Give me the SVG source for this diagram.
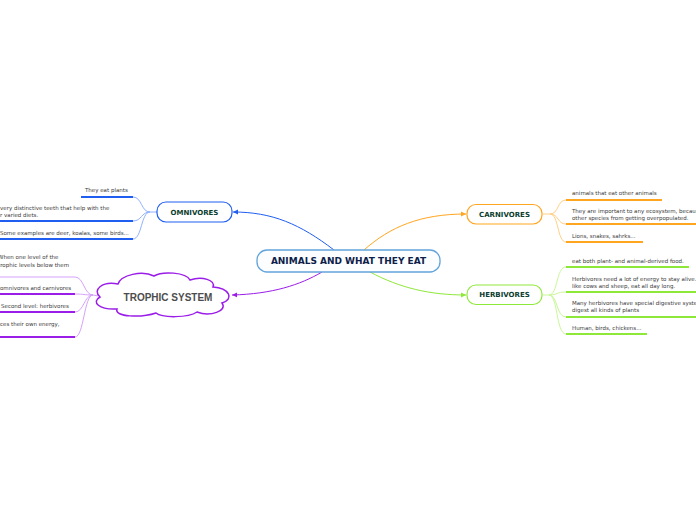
<svg xmlns="http://www.w3.org/2000/svg" width="696" height="520" viewBox="0 0 696 520">
<style>
.t{font-family:"DejaVu Sans",Verdana,sans-serif;font-size:5.5px;fill:#3a3a3a}
.nt{font-family:"DejaVu Sans",Verdana,sans-serif;font-size:7px;font-weight:bold;fill:#0b3d2e;text-anchor:middle}
.main{font-family:"DejaVu Sans",Verdana,sans-serif;font-size:9px;font-weight:bold;fill:#0e1e4a;text-anchor:middle}
.cloudt{font-family:"Liberation Sans",Arial,sans-serif;font-size:10px;font-weight:bold;fill:#4d4d4d;text-anchor:middle}
.c{fill:none;stroke-width:1}
.u{fill:none;stroke-width:2}
.b{stroke:#1f5ef0}.bl{stroke:#8fb0ff}
.o{stroke:#ffa51f}.ol{stroke:#ffcf85}
.g{stroke:#8ee83a}.gl{stroke:#c9f79a}
.p{stroke:#9b1de8}.pl{stroke:#d6a2fb}
</style>
<defs>
<marker id="ab" markerWidth="6" markerHeight="6" refX="5" refY="3" orient="auto" markerUnits="userSpaceOnUse"><path d="M0,0.5 L5,3 L0,5.5 Z" fill="#1f5ef0"/></marker>
<marker id="ao" markerWidth="6" markerHeight="6" refX="5" refY="3" orient="auto" markerUnits="userSpaceOnUse"><path d="M0,0.5 L5,3 L0,5.5 Z" fill="#ffa51f"/></marker>
<marker id="ag" markerWidth="6" markerHeight="6" refX="5" refY="3" orient="auto" markerUnits="userSpaceOnUse"><path d="M0,0.5 L5,3 L0,5.5 Z" fill="#8ee83a"/></marker>
<marker id="ap" markerWidth="6" markerHeight="6" refX="5" refY="3" orient="auto" markerUnits="userSpaceOnUse"><path d="M0,0.5 L5,3 L0,5.5 Z" fill="#9b1de8"/></marker>
</defs>
<g id="connectors">
<path class="c b" d="M334,250 C300,224 272,212 233,212" marker-end="url(#ab)"/>
<path class="c p" d="M322,272 C300,285 272,294 232,295" marker-end="url(#ap)"/>
<path class="c o" d="M364,250 C390,227 420,214 466,214" marker-end="url(#ao)"/>
<path class="c g" d="M370,272 C400,288 430,295 466,295" marker-end="url(#ag)"/>
<path class="c bl" d="M157,212 L150,212 C141,212 142,197 133,197 M150,212 C141,212 142,221 133,221 M150,212 C141,212 142,239 133,239"/>
<path class="c ol" d="M543,214 L550,214 C559,214 557,200 566,200 M550,214 C559,214 557,224 566,224 M550,214 C559,214 557,242 566,242"/>
<path class="c gl" d="M543,295 L549,295 C558,295 556,267 566,267 M549,295 C558,295 556,292 566,292 M549,295 C558,295 556,317 566,317 M549,295 C558,295 556,334 566,334"/>
<path class="c pl" d="M98,296 L93,295 C84,295 84,277 75,277 L0,277 M93,295 C84,295 84,294 75,294 M93,295 C84,295 84,312 75,312 M93,295 C84,295 84,337 75,337"/>
</g>
<g id="central">
<rect x="257" y="250" width="183" height="22" rx="10" fill="#fbfdff" stroke="#62a4db" stroke-width="1.3"/>
<text class="main" x="348.5" y="264.3">ANIMALS AND WHAT THEY EAT</text>
</g>
<g id="omnivores">
<rect x="157" y="202" width="75" height="20" rx="9" fill="#fff" stroke="#1f5ef0" stroke-width="1.2"/>
<text class="nt" x="194.5" y="214.5">OMNIVORES</text>
</g>
<g id="carnivores">
<rect x="467" y="204.5" width="75" height="19.5" rx="9" fill="#fff" stroke="#ffa51f" stroke-width="1.2"/>
<text class="nt" x="504.5" y="216.8">CARNIVORES</text>
</g>
<g id="herbivores">
<rect x="467" y="285" width="75" height="19.5" rx="9" fill="#fff" stroke="#8ee83a" stroke-width="1.2"/>
<text class="nt" x="504.5" y="297.3">HERBIVORES</text>
</g>
<g id="trophic">
<path d="M100,297 C92,290 102,281 118,284 C121,275 142,270 154,276 C162,271 186,272 190,280 C202,276 216,280 213,287 C229,288 235,299 222,303 C228,311 210,317 197,312 C188,318 162,318 156,313 C141,318 114,317 117,309 C99,310 91,302 100,297 Z" fill="#fff" stroke="#9b1de8" stroke-width="1.5"/>
<text class="cloudt" x="168" y="300.5">TROPHIC SYSTEM</text>
</g>
<g id="omni-items">
<text class="t" x="85" y="192">They eat plants</text>
<path class="u b" d="M81,197 L133,197"/>
<text class="t" x="0" y="210">very distinctive teeth that help with the</text>
<text class="t" x="0" y="217">r varied diets.</text>
<path class="u b" d="M0,221 L133,221"/>
<text class="t" x="0" y="234.5">Some examples are deer, koalas, some birds...</text>
<path class="u b" d="M0,239 L133,239"/>
</g>
<g id="trophic-items">
<text class="t" x="-2" y="259">When one level of the</text>
<text class="t" x="-2" y="267">trophic levels below them</text>
<text class="t" x="0" y="290">omnivores and carnivores</text>
<path class="u p" d="M0,294 L75,294"/>
<text class="t" x="1" y="308">Second level: herbivores</text>
<path class="u p" d="M0,312 L75,312"/>
<text class="t" x="0" y="326">ces their own energy,</text>
<path class="u p" d="M0,337 L75,337"/>
</g>
<g id="carni-items">
<text class="t" x="572" y="195">animals that eat other animals</text>
<path class="u o" d="M566,200 L662,200"/>
<text class="t" x="572" y="213">They are important to any ecosystem, becau</text>
<text class="t" x="572" y="220">other species from getting overpopulated.</text>
<path class="u o" d="M566,224 L696,224"/>
<text class="t" x="572" y="238">Lions, snakes, sahrks...</text>
<path class="u o" d="M566,242 L643,242"/>
</g>
<g id="herbi-items">
<text class="t" x="572" y="263">eat both plant- and animal-derived food.</text>
<path class="u g" d="M566,267 L689,267"/>
<text class="t" x="572" y="281">Herbivores need a lot of energy to stay alive.</text>
<text class="t" x="572" y="288">like cows and sheep, eat all day long.</text>
<path class="u g" d="M566,292 L696,292"/>
<text class="t" x="572" y="305">Many herbivores have special digestive syste</text>
<text class="t" x="572" y="312">digest all kinds of plants</text>
<path class="u g" d="M566,317 L696,317"/>
<text class="t" x="572" y="330">Human, birds, chickens...</text>
<path class="u g" d="M566,334 L647,334"/>
</g>
</svg>
